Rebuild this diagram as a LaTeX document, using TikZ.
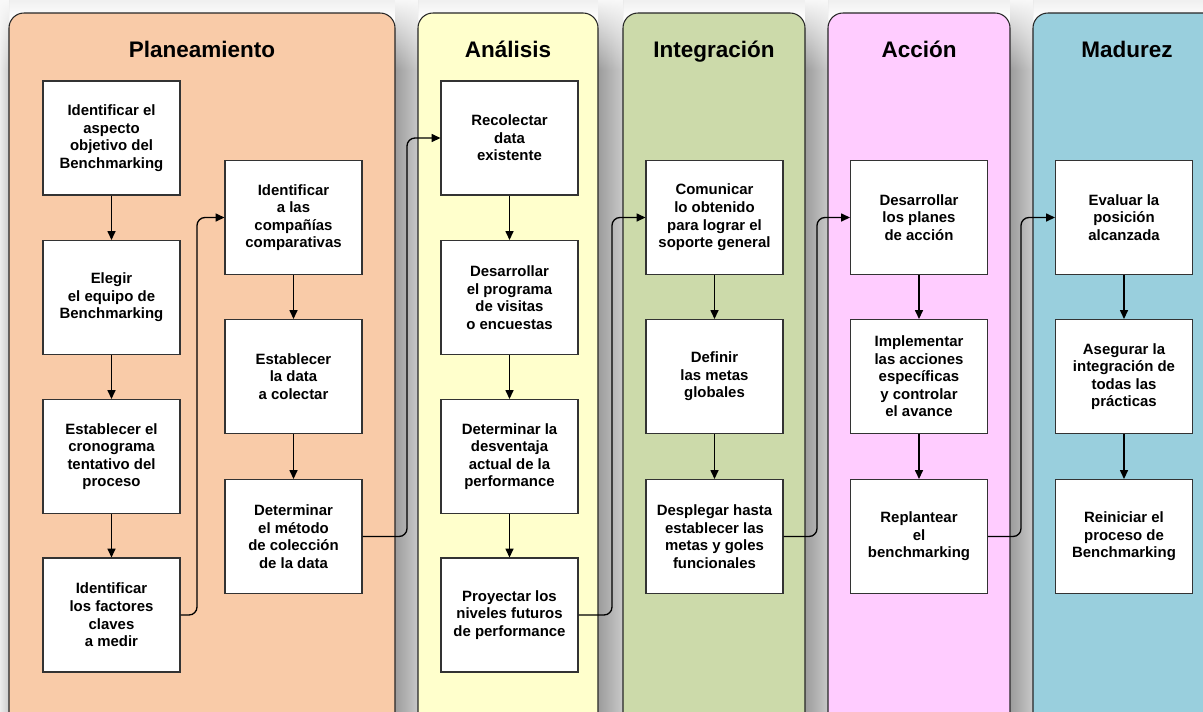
\documentclass[tikz,border=0pt]{standalone}
\usepackage{fontspec}
\setmainfont{Liberation Sans}
\usetikzlibrary{arrows.meta,fadings}
\definecolor{plan}{HTML}{F9CBA8}
\definecolor{anal}{HTML}{FFFFCC}
\definecolor{integ}{HTML}{CCDAAA}
\definecolor{accn}{HTML}{FFCCFF}
\definecolor{madu}{HTML}{99CFDD}
\definecolor{edge}{HTML}{333333}
\tikzfading[name=fadedown, top color=transparent!0, bottom color=transparent!100]
\tikzset{
  ttl/.style  ={font=\bfseries\fontsize{12.8}{15}\selectfont, text=black, anchor=base},
  box/.style  ={draw=edge, line width=0.6pt, fill=white, align=center, inner sep=1pt,
                minimum width=2.74cm, minimum height=2.28cm,
                font=\bfseries\fontsize{8.5}{10}\selectfont},
  panel/.style={draw=black!85, line width=0.6pt, rounded corners=0.3cm},
  gap/.style  ={left color=gray!78, right color=gray!42},
  fade/.style ={fill=gray!5, path fading=fadedown},
  lnk/.style  ={-{Triangle[length=5pt,width=4.5pt]}, line width=0.75pt, draw=black},
  jmp/.style  ={lnk, rounded corners=0.16cm},
}

\begin{document}
\begin{tikzpicture}[x=0.02cm, y=-0.02cm]

  \useasboundingbox (0,0) rectangle (1203,711);
  \clip (0,0) rectangle (1203,711);

  % ---- shadows between the columns ----
  \shade[top color=gray!12, bottom color=white] (0,0) rectangle (1203,20);
  \foreach \l/\r in {395/418, 598/623, 805/828, 1010/1033} {
    \shade[gap] (\l,0) rectangle (\r,711);
    \fill[fade] (\l,-1) rectangle (\r,70);
  }
  \shade[left color=gray!15, right color=gray!40] (0,0) rectangle (9,711);
  \fill[fade] (0,-1) rectangle (9,70);

  % ---- columns ----
  \draw[panel, fill=plan]  (9,13)    rectangle (395,760);
  \draw[panel, fill=anal]  (418,13)  rectangle (598,760);
  \draw[panel, fill=integ] (623,13)  rectangle (805,760);
  \draw[panel, fill=accn]  (828,13)  rectangle (1010,760);
  \draw[panel, fill=madu]  (1033,13) rectangle (1240,760);

  \node[ttl] (tp) at (202,57)  {Planeamiento};
  \node[ttl] (ta) at (508,57)  {Análisis};
  \node[ttl] (ti) at (714,57)  {Integración};
  \node[ttl] (tc) at (919,57)  {Acción};
  \node[ttl] (tm) at (1127,57) {Madurez};

  % ---- Planeamiento ----
  \node[box] (p1) at (111.5,138)   {Identificar el\\aspecto\\objetivo del\\Benchmarking};
  \node[box] (p2) at (111.5,297.5) {Elegir\\el equipo de\\Benchmarking};
  \node[box] (p3) at (111.5,456.5) {Establecer el\\cronograma\\tentativo del\\proceso};
  \node[box] (p4) at (111.5,615)   {Identificar\\los factores\\claves\\a medir};
  \node[box] (q1) at (293.5,217.5) {Identificar\\a las\\compañías\\comparativas};
  \node[box] (q2) at (293.5,376.5) {Establecer\\la data\\a colectar};
  \node[box] (q3) at (293.5,536.5) {Determinar\\el método\\de colección\\de la data};

  % ---- Análisis ----
  \node[box] (a1) at (509.5,138)   {Recolectar\\data\\existente};
  \node[box] (a2) at (509.5,297.5) {Desarrollar\\el programa\\de visitas\\o encuestas};
  \node[box] (a3) at (509.5,456.5) {Determinar la\\desventaja\\actual de la\\performance};
  \node[box] (a4) at (509.5,615)   {Proyectar los\\niveles futuros\\de performance};

  % ---- Integración ----
  \node[box] (i1) at (714.5,217.5) {Comunicar\\lo obtenido\\para lograr el\\soporte general};
  \node[box] (i2) at (714.5,376.5) {Definir\\las metas\\globales};
  \node[box] (i3) at (714.5,536.5) {Desplegar hasta\\establecer las\\metas y goles\\funcionales};

  % ---- Acción ----
  \node[box] (c1) at (919,217.5) {Desarrollar\\los planes\\de acción};
  \node[box] (c2) at (919,376.5) {Implementar\\las acciones\\específicas\\y controlar\\el avance};
  \node[box] (c3) at (919,536.5) {Replantear\\el\\benchmarking};

  % ---- Madurez ----
  \node[box] (m1) at (1124,217.5) {Evaluar la\\posición\\alcanzada};
  \node[box] (m2) at (1124,376.5) {Asegurar la\\integración de\\todas las\\prácticas};
  \node[box] (m3) at (1124,536.5) {Reiniciar el\\proceso de\\Benchmarking};

  % ---- arrows inside a column ----
  \foreach \a/\b in {p1/p2, p2/p3, p3/p4, q1/q2, q2/q3, a1/a2, a2/a3, a3/a4,
                     i1/i2, i2/i3, c1/c2, c2/c3, m1/m2, m2/m3}
    \draw[lnk] (\a) -- (\b);

  % ---- jumps to the next column ----
  \coordinate (j1) at (197,0);
  \coordinate (j2) at (407,0);
  \coordinate (j3) at (612,0);
  \coordinate (j4) at (817,0);
  \coordinate (j5) at (1021,0);
  \draw[jmp] (p4.east) -| (j1 |- q1.west) -- (q1.west);
  \draw[jmp] (q3.east) -| (j2 |- a1.west) -- (a1.west);
  \draw[jmp] (a4.east) -| (j3 |- i1.west) -- (i1.west);
  \draw[jmp] (i3.east) -| (j4 |- c1.west) -- (c1.west);
  \draw[jmp] (c3.east) -| (j5 |- m1.west) -- (m1.west);

\end{tikzpicture}
\end{document}
